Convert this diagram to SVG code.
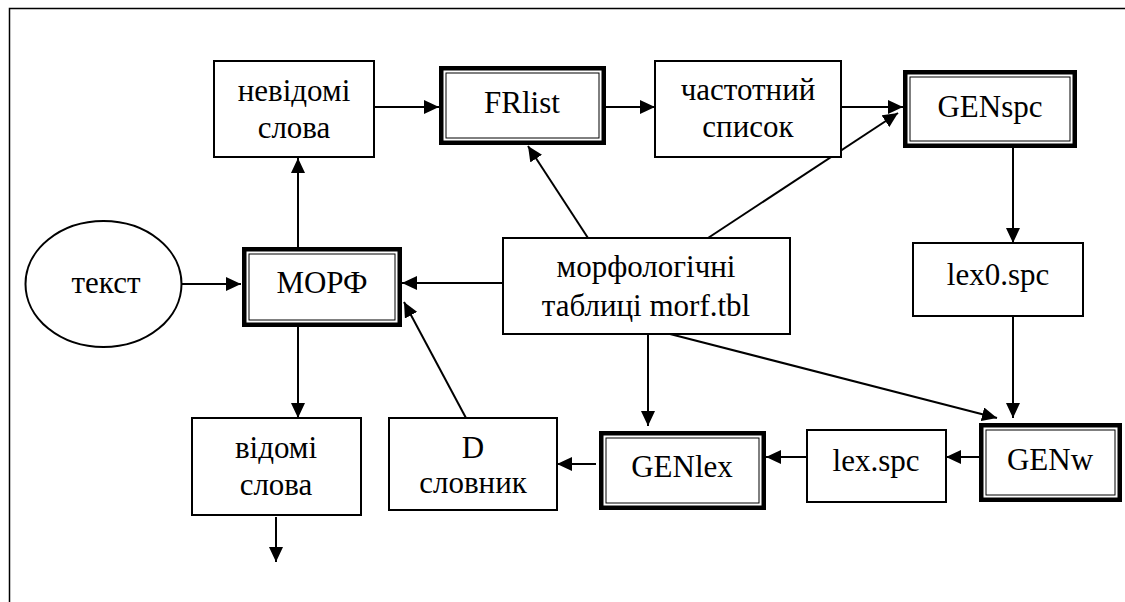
<svg xmlns="http://www.w3.org/2000/svg" width="1125" height="602" viewBox="0 0 1125 602">
<defs>
<marker id="ah" markerUnits="userSpaceOnUse" markerWidth="15" markerHeight="14" refX="15" refY="7" orient="auto">
<path d="M0,0 L15,7 L0,14 Z" fill="#000"/>
</marker>
</defs>
<style>
.t{font-size:31px;fill:#000;text-anchor:middle}
.b{fill:#fff;stroke:#000;stroke-width:2}
.o{fill:#fff;stroke:#000;stroke-width:4.5}
.i{fill:none;stroke:#000;stroke-width:1}
.c{fill:none;stroke:#000;stroke-width:2;marker-end:url(#ah)}
</style>
<rect width="1125" height="602" fill="#fff"/>
<path d="M9.5,602 V8.5 H1125" fill="none" stroke="#000" stroke-width="1.5"/>
<g id="connectors">
<line class="c" x1="182" y1="284" x2="241" y2="284"/>
<line class="c" x1="298" y1="247" x2="298" y2="158"/>
<line class="c" x1="374" y1="107" x2="439" y2="107"/>
<line class="c" x1="606" y1="107" x2="655" y2="107"/>
<line class="c" x1="838" y1="107" x2="903" y2="107"/>
<line class="c" x1="708" y1="238" x2="898" y2="113"/>
<line class="c" x1="588" y1="238" x2="528" y2="146"/>
<line class="c" x1="503" y1="283" x2="402" y2="283"/>
<line class="c" x1="1013" y1="148" x2="1013" y2="243"/>
<line class="c" x1="1013" y1="312" x2="1013" y2="418"/>
<line class="c" x1="670" y1="334" x2="997" y2="418"/>
<line class="c" x1="648" y1="334" x2="648" y2="426"/>
<line class="c" x1="979" y1="457" x2="946" y2="457"/>
<line class="c" x1="807" y1="457" x2="766" y2="457"/>
<line class="c" x1="596" y1="464" x2="557" y2="464"/>
<line class="c" x1="466" y1="418" x2="404" y2="302"/>
<line class="c" x1="298" y1="327" x2="298" y2="418"/>
<line class="c" x1="276" y1="517" x2="276" y2="562"/>
</g>
<g font-family="Liberation Serif, Times New Roman, serif">
<g id="tekst">
<ellipse cx="103.5" cy="284" rx="78" ry="63" fill="#fff" stroke="#000" stroke-width="2"/>
<text class="t" x="106" y="293">текст</text>
</g>
<g id="nevidomi">
<rect class="b" x="214" y="61" width="160" height="96"/>
<text class="t" x="294" y="101">невідомі</text>
<text class="t" x="294" y="138">слова</text>
</g>
<g id="frlist">
<rect class="o" x="441.25" y="68.25" width="162.5" height="74.5"/>
<rect class="i" x="446" y="73" width="153" height="65"/>
<text class="t" x="522" y="113">FRlist</text>
</g>
<g id="chastotnyi">
<rect class="b" x="655" y="61" width="186" height="96"/>
<text class="t" x="748" y="100">частотний</text>
<text class="t" x="748" y="137">список</text>
</g>
<g id="genspc">
<rect class="o" x="905.25" y="72.25" width="169.5" height="73.5"/>
<rect class="i" x="910" y="77" width="160" height="64"/>
<text class="t" x="990" y="117">GENspc</text>
</g>
<g id="lex0">
<rect class="b" x="913" y="243" width="170" height="73"/>
<text class="t" x="998" y="285">lex0.spc</text>
</g>
<g id="morftbl">
<rect class="b" x="503" y="238" width="287" height="96"/>
<text class="t" x="646" y="277">морфологічні</text>
<text class="t" x="646" y="316">таблиці morf.tbl</text>
</g>
<g id="morf">
<rect class="o" x="244.25" y="249.25" width="155.5" height="75.5"/>
<rect class="i" x="249" y="254" width="146" height="66"/>
<text class="t" x="322" y="293">МОРФ</text>
</g>
<g id="vidomi">
<rect class="b" x="192" y="418" width="169" height="97"/>
<text class="t" x="276" y="458">відомі</text>
<text class="t" x="276" y="495">слова</text>
</g>
<g id="slovnyk">
<rect class="b" x="389" y="418" width="168" height="92"/>
<text class="t" x="473" y="458">D</text>
<text class="t" x="473" y="493">словник</text>
</g>
<g id="genlex">
<rect class="o" x="601.25" y="433.25" width="162.5" height="74.5"/>
<rect class="i" x="606" y="438" width="153" height="65"/>
<text class="t" x="682" y="477">GENlex</text>
</g>
<g id="lexspc">
<rect class="b" x="807" y="430" width="139" height="72"/>
<text class="t" x="876" y="471">lex.spc</text>
</g>
<g id="genw">
<rect class="o" x="981.25" y="425.25" width="138.5" height="74.5"/>
<rect class="i" x="986" y="430" width="129" height="65"/>
<text class="t" x="1050" y="470">GENw</text>
</g>
</g>
</svg>
